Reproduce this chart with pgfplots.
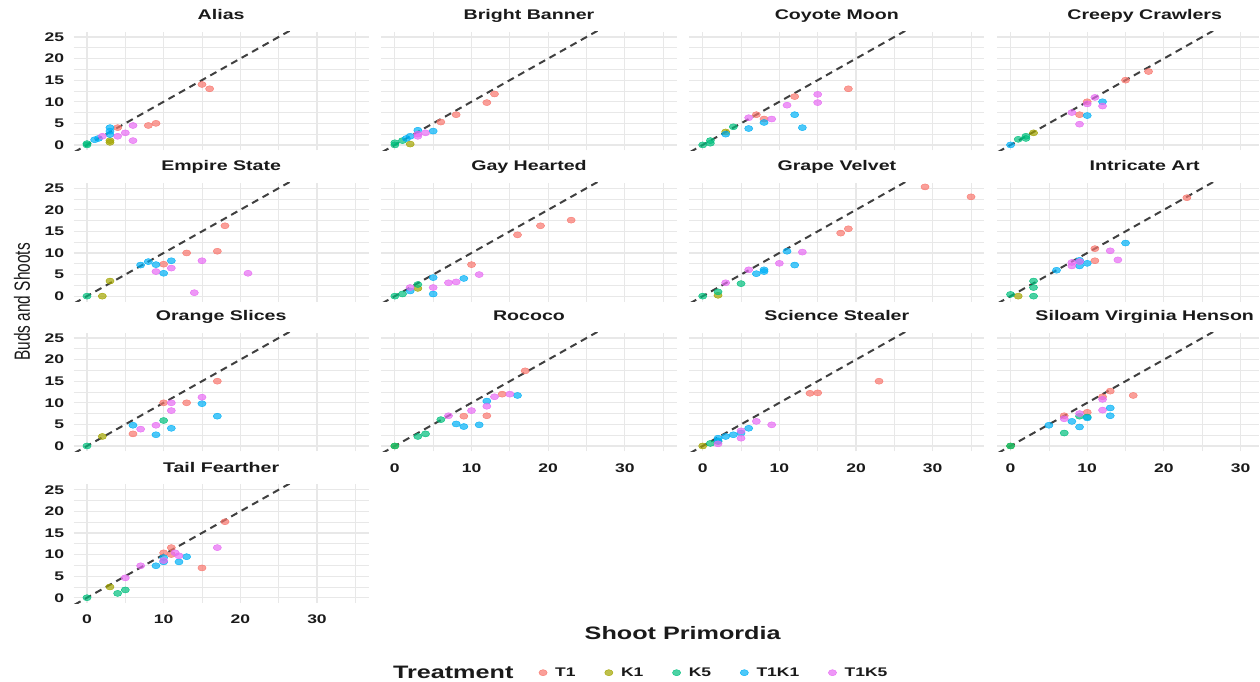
\documentclass[border=0pt]{standalone}
\usepackage{fontspec}
\setmainfont{Liberation Sans}[FakeStretch=1.4]
\newfontfamily\rotfont{Liberation Sans}[FakeStretch=0.7]
\usepackage{pgfplots}
\pgfplotsset{compat=1.18}
\definecolor{cT1}{HTML}{F8766D}
\definecolor{cK1}{HTML}{A3A500}
\definecolor{cK5}{HTML}{00BF7D}
\definecolor{cT1K1}{HTML}{00B0F6}
\definecolor{cT1K5}{HTML}{E76BF3}
\definecolor{gridc}{HTML}{E8E8E8}
\definecolor{txt}{HTML}{1A1A1A}
\newcommand\titlefont{\fontsize{14}{16}\selectfont\bfseries}
\newcommand\tickfont{\fontsize{12.5}{14}\selectfont\bfseries}
\pgfplotsset{
  base/.style={scale only axis, width=295.3pt, height=118.8pt, anchor=south west,
    xmin=-1.75, xmax=36.75, ymin=-1.25, ymax=26.25,
    axis line style={draw=none}, major tick length=0pt, minor tick length=0pt,
    xtick={0,10,20,30}, minor xtick={5,15,25,35},
    ytick={0,5,10,15,20,25}, minor ytick={2.5,7.5,12.5,17.5,22.5},
    grid=both, major grid style={color=gridc, line width=1.2pt},
    minor grid style={color=gridc, line width=0.7pt},
    xticklabels={}, yticklabels={},
    ticklabel style={font=\tickfont, text=txt},
    xticklabel style={yshift=-8.5pt}, yticklabel style={xshift=-6pt},
    title style={at={(0.5,1)}, anchor=base, yshift=6pt, font=\titlefont, text=txt},
  },
  lastcol/.style={width=262.4pt, xmax=32.46, title style={at={(0.5627,1)}}},
  mypt/.style={only marks, mark=*, mark size=4.1pt, color=#1,
    mark options={draw=none, fill=#1, fill opacity=0.7, yscale=0.74}},
  refline/.style={no marks, color=black!75, line width=2pt, dash pattern=on 7pt off 5pt},
  legimg/.style={legend image code/.code={\path (-8pt,-5pt) (10pt,5pt); \draw[##1] plot coordinates {(0pt,0pt)};}},
}
\newcommand{\facet}[9]{%
\begin{axis}[base, at={(#1pt,#2pt)}, title={#3}, #4]
\addplot[mypt=cT1] coordinates {#5};
\addplot[mypt=cK1] coordinates {#6};
\addplot[mypt=cK5] coordinates {#7};
\addplot[mypt=cT1K1] coordinates {#8};
\addplot[mypt=cT1K5] coordinates {#9};
\addplot[refline] coordinates {(-3,-3) (40,40)};
\end{axis}}
\begin{document}
\begin{tikzpicture}
\path (0pt,0pt) (1260pt,681pt);
% Row 1
\facet{73.6}{530.6}{Alias}{yticklabels={0,5,10,15,20,25}}
 {(4,4) (8,4.5) (9,5) (15,14) (16,13)}
 {(3,1) (3,0.6)}
 {(0,0) (0,0.3)}
 {(1,1.2) (1.5,1.5) (3,4) (3,3.2) (3,2.4)}
 {(2,2) (4,2) (5,2.8) (6,4.5) (6,1)}
\facet{381.6}{530.6}{Bright Banner}{}
 {(6,5.3) (8,7) (12,9.8) (13,11.8)}
 {(2,0.2)}
 {(0,0) (0,0.5) (1,1)}
 {(1.5,1.5) (2,2) (3,3.4) (5,3.2)}
 {(3,2) (3,2.5) (4,2.8)}
\facet{689.6}{530.6}{Coyote Moon}{}
 {(7,7) (8,6) (12,11.2) (19,13)}
 {(3,3)}
 {(0,0) (1,0.4) (1,1) (4,4.2)}
 {(3,2.5) (6,3.8) (8,5.2) (12,7) (13,4)}
 {(6,6.3) (9,6) (11,9.2) (15,11.7) (15,9.8)}
\facet{997.6}{530.6}{Creepy Crawlers}{lastcol}
 {(9,7) (10,10) (15,15) (18,17)}
 {(3,2.8)}
 {(1,1.3) (2,1.5) (2,2)}
 {(0,0) (10,6.8) (12,10)}
 {(8,7.5) (9,4.8) (10,9.5) (11,11) (12,9)}
% Row 2
\facet{73.6}{379.3}{Empire State}{yticklabels={0,5,10,15,20,25}}
 {(10,7.4) (13,10) (17,10.4) (18,16.3)}
 {(2,0) (3,3.5)}
 {(0,0)}
 {(7,7.2) (8,8) (9,7.3) (10,5.3) (11,8.2)}
 {(9,5.7) (11,6.5) (15,8.2) (14,0.8) (21,5.3)}
\facet{381.6}{379.3}{Gay Hearted}{}
 {(10,7.3) (16,14.2) (19,16.3) (23,17.6)}
 {(3,1.8)}
 {(0,0) (1,0.5) (3,2.7)}
 {(2,1.2) (5,4.3) (5,0.5) (9,4.1)}
 {(2,2) (5,2) (7,3.1) (8,3.3) (11,5)}
\facet{689.6}{379.3}{Grape Velvet}{}
 {(18,14.6) (19,15.6) (29,25.3) (35,23)}
 {(2,0.2)}
 {(0,0) (2,1) (5,2.9)}
 {(7,5.2) (8,5.7) (8,6.1) (11,10.4) (12,7.2)}
 {(3,3.1) (6,6.1) (10,7.6) (13,10.2)}
\facet{997.6}{379.3}{Intricate Art}{lastcol}
 {(11,11) (11,8.2) (23,22.8)}
 {(1,0)}
 {(0,0.4) (3,3.5) (3,2) (3,0)}
 {(6,6) (9,8.3) (9,7) (10,7.6) (15,12.3)}
 {(8,7.8) (8,7) (9,8) (13,10.5) (14,8.4)}
% Row 3
\facet{73.6}{229.4}{Orange Slices}{yticklabels={0,5,10,15,20,25}}
 {(6,2.8) (10,10) (13,10) (17,15)}
 {(2,2.2)}
 {(0,0) (10,5.9)}
 {(6,4.8) (9,2.6) (11,4.1) (15,9.8) (17,6.9)}
 {(7,3.9) (9,4.8) (11,8.2) (11,10) (15,11.3)}
\facet{381.6}{229.4}{Rococo}{xticklabels={0,10,20,30}}
 {(9,6.9) (12,7) (14,12) (17,17.4)}
 {(0,0)}
 {(0,0) (3,2.2) (4,2.8) (6,6.1)}
 {(8,5.1) (9,4.5) (11,4.9) (12,10.4) (16,11.7)}
 {(7,7) (10,8.2) (12,9.2) (13,11.4) (15,12)}
\facet{689.6}{229.4}{Science Stealer}{xticklabels={0,10,20,30}}
 {(14,12.2) (15,12.3) (23,15)}
 {(0,0)}
 {(1,0.6) (2,1)}
 {(2,1.8) (3,2.2) (4,2.6) (5,3) (6,4.1) (2,1.2)}
 {(2,0.5) (5,1.8) (5,3.5) (7,5.7) (9,4.9)}
\facet{997.6}{229.4}{Siloam Virginia Henson}{lastcol, xticklabels={0,10,20,30}}
 {(7,7) (10,7.8) (12,11.4) (13,12.7) (16,11.7)}
 {(0,0)}
 {(0,0) (7,3) (9,6.9) (10,6.7)}
 {(5,4.8) (8,5.7) (9,4.4) (10,6.5) (13,8.8) (13,7)}
 {(7,6.3) (9,7.5) (12,10.8) (12,8.3)}
% Row 4
\facet{73.6}{77.6}{Tail Fearther}{yticklabels={0,5,10,15,20,25}, xticklabels={0,10,20,30},
   legend entries={T1,K1,K5,T1K1,T1K5}, legimg,
   legend style={at={(1.552,-0.586)}, anchor=west, draw=none, fill=none, legend columns=5,
     font=\tickfont, text=txt, /tikz/every even column/.append style={column sep=23pt}}}
 {(10,10.4) (11,11.6) (11,10) (15,6.9) (18,17.6)}
 {(3,2.5)}
 {(0,0) (4,1) (5,1.8)}
 {(9,7.4) (10,8.3) (10,9.3) (12,8.3) (13,9.5)}
 {(5,4.6) (7,7.4) (10,8.6) (11.5,10.4) (12,9.7) (17,11.6)}
% labels
\node[rotate=90, font=\rotfont\fontsize{22}{24}\selectfont, text=txt] at (22pt,379pt) {Buds and Shoots};
\node[font=\fontsize{18}{20}\selectfont\bfseries, text=txt] at (683pt,48pt) {Shoot Primordia};
\node[font=\fontsize{18}{20}\selectfont\bfseries, text=txt, anchor=west, inner sep=0pt] at (393pt,8pt) {Treatment};
\end{tikzpicture}
\end{document}
